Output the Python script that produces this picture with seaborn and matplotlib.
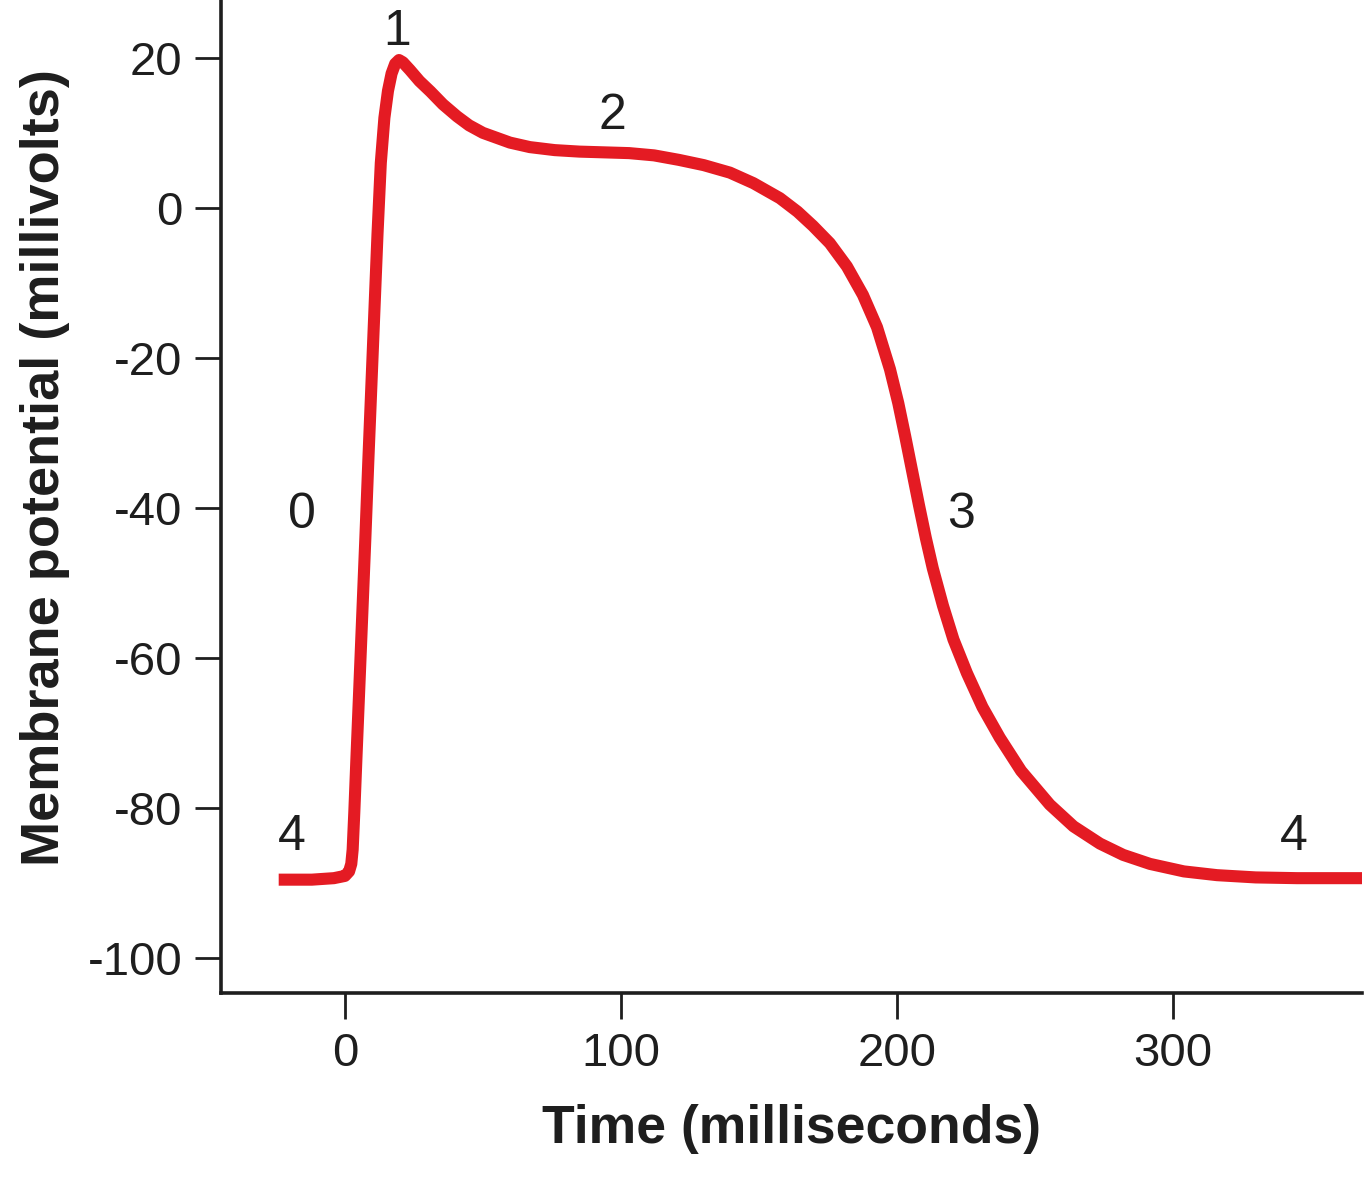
import matplotlib
matplotlib.use("Agg")
import matplotlib.pyplot as plt
import seaborn as sns
import pandas as pd

# Cardiac ventricular action potential
time_ms = [-24, -12, -4, 0, 1.5, 2.3, 2.8, 3.4, 4.2, 5.2, 6.3, 7.4, 8.5,
           9.6, 10.7, 11.8, 13.0, 14.3, 15.6, 16.9, 18.2, 19.6, 21.0, 23.5,
           27.0, 31.0, 35.5, 40.6, 45.0, 50.0, 59.8, 67.0, 76.0, 85.0, 94.0,
           103.0, 112.0, 121.0, 130.0, 139.5, 148.0, 157.6, 164.0, 169.6,
           175.7, 181.9, 187.7, 192.8, 197.5, 200.5, 203.0, 205.5, 208.0,
           210.5, 213.0, 216.7, 220.5, 225.4, 231.0, 237.3, 245.0, 255.4,
           264.0, 273.6, 282.0, 291.7, 304.0, 316.0, 330.0, 345.0, 369.0]
voltage_mv = [-89.5, -89.5, -89.3, -89.0, -88.4, -87.4, -85.5, -80.5, -73.0,
              -64.0, -54.0, -44.0, -33.5, -23.5, -13.5, -3.5, 6.0, 12.0, 15.6,
              17.9, 19.2, 19.7, 19.4, 18.4, 16.9, 15.5, 13.8, 12.2, 11.0, 10.0,
              8.7, 8.1, 7.7, 7.5, 7.4, 7.3, 7.0, 6.4, 5.7, 4.7, 3.3, 1.3, -0.5,
              -2.4, -4.7, -7.8, -11.6, -15.9, -21.5, -26.0, -30.4, -35.0,
              -39.6, -44.0, -48.0, -53.0, -57.5, -62.0, -66.5, -70.6, -75.0,
              -79.5, -82.4, -84.7, -86.2, -87.4, -88.4, -88.9, -89.2, -89.3,
              -89.3]

phase_labels = ["0", "1", "2", "3", "4", "4"]
phase_x = [-15.6, 18.8, 97.0, 223.2, -19.2, 344.0]
phase_y = [-40.9, 23.5, 12.3, -40.9, -83.8, -83.8]

y_ticks = [-100, -80, -60, -40, -20, 0, 20]
x_ticks = [0, 100, 200, 300]

df = pd.DataFrame({"time": time_ms, "mv": voltage_mv})

sns.set_theme(style="ticks")
plt.rcParams["font.family"] = ["Liberation Sans", "DejaVu Sans"]
plt.rcParams["axes.unicode_minus"] = False

ink = "#1e1e1e"
red = "#E41B23"

fig = plt.figure(figsize=(13.66, 12), dpi=100)
ax = fig.add_axes([0.1618, 0.1725, 0.8352, 0.8275])

sns.lineplot(data=df, x="time", y="mv", sort=False, color=red,
             linewidth=8.7, ax=ax)
ax.lines[0].set_solid_joinstyle("round")
ax.lines[0].set_solid_capstyle("butt")

for lab, tx, ty in zip(phase_labels, phase_x, phase_y):
    ax.text(tx, ty, lab, ha="center", va="center", fontsize=36, color=ink)

ax.set_xlim(-44.9, 368.5)
ax.set_ylim(-104.6, 27.7)
ax.set_xticks(x_ticks)
ax.set_yticks(y_ticks)
ax.tick_params(axis="both", length=19, width=2, color=ink, labelsize=34,
               labelcolor=ink)
ax.tick_params(axis="y", pad=9)
ax.tick_params(axis="x", pad=9)

sns.despine(ax=ax)
for side in ["left", "bottom"]:
    ax.spines[side].set_linewidth(2.6)
    ax.spines[side].set_color(ink)

ax.set_xlabel("Time (milliseconds)", fontsize=38.5, fontweight="bold",
              color=ink, labelpad=20)
ax.set_ylabel("Membrane potential (millivolts)", fontsize=39,
              fontweight="bold", color=ink)
ax.yaxis.set_label_coords(-0.132, 0.529)

fig.savefig("out.png", dpi=100)
